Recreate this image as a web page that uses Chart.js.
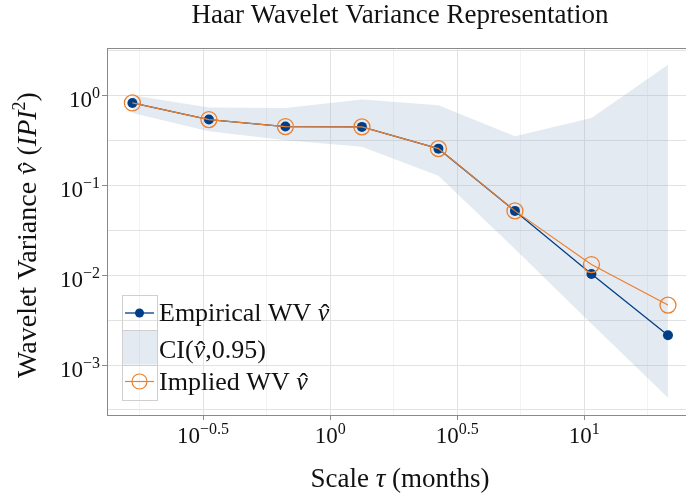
<!DOCTYPE html>
<html><head><meta charset="utf-8">
<script src="https://cdn.jsdelivr.net/npm/chart.js@4/dist/chart.umd.min.js"></script>
<style>html,body{margin:0;padding:0;background:#fff;overflow:hidden}#wrap{width:686px;height:497px;position:relative}</style>
</head><body><div id="wrap"><canvas id="c" width="686" height="497" style="width:686px;height:497px"></canvas></div>
<script>
// Scale tau (months)
const scalesTau = [0.16667, 0.33333, 0.66667, 1.33333, 2.66667, 5.33333, 10.66667, 21.33333];
const empiricalWV = [0.822, 0.537, 0.449, 0.445, 0.255, 0.0518, 0.0103, 0.00214];
const impliedWV = [0.822, 0.537, 0.449, 0.445, 0.255, 0.0518, 0.0131, 0.00464];
const ciUpper = [1.0, 0.73, 0.72, 0.90, 0.774, 0.35, 0.56, 2.19];
const ciLower = [0.636, 0.398, 0.316, 0.267, 0.127, 0.0195, 0.00288, 0.000432];
const xTickExps = ['-0.5', '0', '0.5', '1'];
const yTickExps = ['0', '-1', '-2', '-3'];
const xGridExps = [-0.75, -0.5, -0.25, 0, 0.25, 0.5, 0.75, 1, 1.25];
const yGridExps = [0.5, 0, -0.5, -1, -1.5, -2, -2.5, -3, -3.5];
const titleText = 'Haar Wavelet Variance Representation';
const legendLabels = ['Empirical WV ', 'CI(', 'Implied WV '];

const NAVY = '#003f87', ORANGE = '#ea8030', BAND = 'rgba(150,172,200,0.26)';
const SERIF = '"Liberation Serif", "DejaVu Serif", serif';
let FS = 27;

function pts(ys){ return scalesTau.map((x,i)=>({x:x, y:ys[i]})); }

function drawPow(ctx, exp, x, y, align, base){
  base = base || '10';
  const ex = exp.replace('-', '\u2212');
  ctx.font = '23px ' + SERIF;
  const wb = ctx.measureText(base).width;
  ctx.font = '16px ' + SERIF;
  const we = ctx.measureText(ex).width;
  const w = wb + we;
  let sx = align === 'right' ? x - w : (align === 'center' ? x - w/2 : x);
  ctx.textAlign = 'left'; ctx.textBaseline = 'alphabetic';
  ctx.font = '23px ' + SERIF;
  ctx.fillText(base, sx, y);
  ctx.font = '16px ' + SERIF;
  ctx.fillText(ex, sx + wb, y - 9);
}

function segFont(s){ return (s.it?'italic ':'') + (s.sup?Math.round(FS*0.66):FS) + 'px ' + SERIF; }
function drawSegList(ctx, segs, startX, y){
  let cx = startX;
  ctx.textAlign='left'; ctx.textBaseline='alphabetic';
  segs.forEach(s=>{
    ctx.font = segFont(s);
    const w = ctx.measureText(s.t).width;
    ctx.fillText(s.t, cx, s.sup ? y-11 : y);
    if (s.hat) {
      ctx.font = FS + 'px ' + SERIF;
      ctx.textAlign = 'center';
      ctx.fillText('\u02C6', cx + w/2 + 1.5, y + 1);
      ctx.textAlign = 'left';
    }
    cx += w;
  });
}
function segWidth(ctx, segs){ let w = 0; segs.forEach(s=>{ ctx.font = segFont(s); w += ctx.measureText(s.t).width; }); return w; }
function drawSegs(ctx, segs, x, y){ drawSegList(ctx, segs, x - segWidth(ctx, segs)/2, y); }
const NU = {t:'\u03BD', it:true, hat:true};

const decor = {
  id:'decor',
  afterDraw(chart){
    const ctx = chart.ctx, a = chart.chartArea;
    const xs = chart.scales.x, ys = chart.scales.y;
    ctx.save();
    ctx.strokeStyle = '#8a8a8a'; ctx.lineWidth = 1;
    ctx.beginPath(); ctx.moveTo(a.left, Math.round(a.top)+0.5); ctx.lineTo(a.right, Math.round(a.top)+0.5); ctx.stroke();
    ctx.beginPath();
    yTickExps.forEach(e=>{ const py = Math.round(ys.getPixelForValue(Math.pow(10, parseFloat(e))))+0.5; ctx.moveTo(a.left-5, py); ctx.lineTo(a.left, py); });
    xTickExps.forEach(e=>{ const px = Math.round(xs.getPixelForValue(Math.pow(10, parseFloat(e))))+0.5; ctx.moveTo(px, a.bottom); ctx.lineTo(px, a.bottom+5); });
    ctx.stroke();
    ctx.fillStyle = '#111';
    yTickExps.forEach(e=>{ const py = ys.getPixelForValue(Math.pow(10, parseFloat(e))); drawPow(ctx, e, a.left-7, py+11.5, 'right'); });
    xTickExps.forEach(e=>{ const px = xs.getPixelForValue(Math.pow(10, parseFloat(e))); drawPow(ctx, e, px, 443, 'center'); });
    FS = 27;
    ctx.font = FS + 'px ' + SERIF; ctx.textAlign='center'; ctx.textBaseline='alphabetic';
    ctx.fillText(titleText, 400, 23);
    drawSegs(ctx, [{t:'Scale '},{t:'\u03C4', it:true},{t:' (months)'}], 400, 487);
    FS = 28;
    ctx.save(); ctx.translate(36, 235); ctx.rotate(-Math.PI/2);
    drawSegs(ctx, [{t:'Wavelet Variance '},NU,{t:' ('},{t:'IPI', it:true},{t:'2', sup:true},{t:')'}], 0, 0);
    ctx.restore();
    FS = 26;
    const lx = 122, lw = 35, rows = [295, 330, 364.5, 399];
    ctx.fillStyle = BAND; ctx.fillRect(lx, rows[1], lw, rows[2]-rows[1]);
    ctx.strokeStyle = '#cfcfcf'; ctx.lineWidth = 1;
    for (let i=0;i<3;i++) ctx.strokeRect(lx+0.5, Math.round(rows[i])+0.5, lw, Math.round(rows[i+1]-rows[i]));
    ctx.strokeStyle = NAVY; ctx.lineWidth = 1.3;
    ctx.beginPath(); ctx.moveTo(lx+3, 313); ctx.lineTo(lx+32, 313); ctx.stroke();
    ctx.fillStyle = NAVY; ctx.beginPath(); ctx.arc(lx+17.5, 313, 4.5, 0, Math.PI*2); ctx.fill();
    ctx.strokeStyle = ORANGE; ctx.lineWidth = 1.2;
    ctx.beginPath(); ctx.moveTo(lx+3, 381.5); ctx.lineTo(lx+32, 381.5); ctx.stroke();
    ctx.beginPath(); ctx.arc(lx+17.5, 381.5, 7.5, 0, Math.PI*2); ctx.stroke();
    ctx.fillStyle = '#111';
    drawSegList(ctx, [{t:legendLabels[0]},NU], 159, 321);
    drawSegList(ctx, [{t:legendLabels[1]},NU,{t:',0.95)'}], 159, 358);
    drawSegList(ctx, [{t:legendLabels[2]},NU], 159, 390);
    ctx.restore();
  }
};

function gridColor(c){
  if (!c.tick) return 'rgba(0,0,0,0)';
  const e = Math.log10(c.tick.value);
  return Math.abs(e*2 - Math.round(e*2)) < 1e-6 ? '#e2e2e2' : '#f3f3f3';
}

new Chart(document.getElementById('c'), {
  type: 'line',
  data: { datasets: [
    { label:'Implied WV', data: pts(impliedWV), borderColor: ORANGE, backgroundColor: 'rgba(0,0,0,0)', pointBorderColor: ORANGE, pointBackgroundColor:'rgba(0,0,0,0)', pointRadius: 8, pointBorderWidth: 1.3, borderWidth: 1.2, tension: 0, fill:false, order: 0 },
    { label:'Empirical WV', data: pts(empiricalWV), borderColor: NAVY, backgroundColor: NAVY, pointBackgroundColor: NAVY, pointBorderColor: NAVY, pointRadius: 5, pointBorderWidth: 0, borderWidth: 1.3, tension: 0, fill:false, order: 1 },
    { label:'CI upper', data: pts(ciUpper), borderWidth: 0, borderColor:'rgba(0,0,0,0)', pointRadius: 0, backgroundColor: BAND, fill: '+1', tension: 0, order: 2 },
    { label:'CI lower', data: pts(ciLower), borderWidth: 0, borderColor:'rgba(0,0,0,0)', pointRadius: 0, fill: false, tension: 0, order: 3 }
  ]},
  options: {
    responsive: false, animation: false, devicePixelRatio: 1,
    layout: { autoPadding: false, padding: { left: 107, top: 48, right: 0, bottom: 82 } },
    plugins: { legend: { display: false }, tooltip: { enabled: false }, title: { display: false }, filler: { drawTime: 'beforeDatasetsDraw' } },
    scales: {
      x: { type: 'logarithmic', min: Math.pow(10, -0.878), max: Math.pow(10, 1.40),
           afterBuildTicks: s => { s.ticks = xGridExps.map(e => ({ value: Math.pow(10, e) })); },
           ticks: { display: false }, grid: { drawTicks: false, color: gridColor, lineWidth: 1 },
           border: { display: true, color: '#8a8a8a', width: 1 } },
      y: { type: 'logarithmic', min: Math.pow(10, -3.556), max: Math.pow(10, 0.526),
           afterBuildTicks: s => { s.ticks = yGridExps.map(e => ({ value: Math.pow(10, e) })); },
           ticks: { display: false }, grid: { drawTicks: false, color: gridColor, lineWidth: 1 },
           border: { display: true, color: '#8a8a8a', width: 1 } }
    }
  },
  plugins: [decor]
});
</script></body></html>
